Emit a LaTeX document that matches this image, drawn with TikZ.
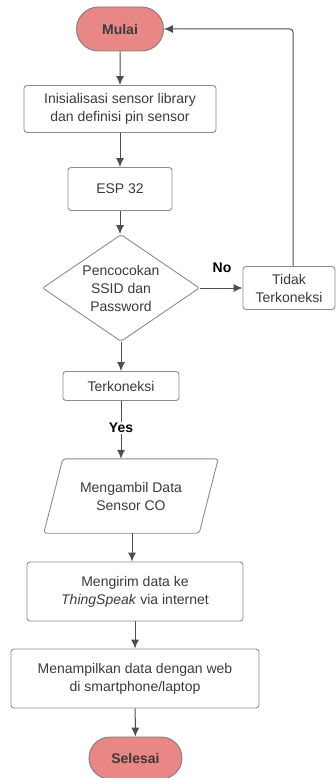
\documentclass[tikz,border=0pt]{standalone}
\usepackage{fontspec}
\setmainfont{Liberation Sans}
\usetikzlibrary{shapes.geometric,shapes.misc,arrows.meta,calc}
\definecolor{txt}{HTML}{3A3A3A}
\definecolor{bord}{HTML}{8C8C8C}
\definecolor{lin}{HTML}{4A4F57}
\definecolor{term}{HTML}{E98686}
\tikzset{
  base/.style={font=\fontsize{14}{18}\selectfont, text=txt, align=center, inner sep=0pt},
  box/.style={base, draw=bord, line width=0.9pt, rounded corners=3pt},
  termbox/.style={base, draw=bord!90!black, fill=term, line width=0.9pt, rounded rectangle, font=\fontsize{14}{18}\selectfont\bfseries},
  dec/.style={base, draw=bord, line width=0.9pt, diamond, shape aspect=1.47, rounded corners=2pt},
  lbl/.style={font=\fontsize{14}{18}\selectfont\bfseries, text=black, inner sep=1pt},
  arr/.style={draw=lin, line width=1pt, -{Latex[length=9pt,width=8pt]}},
  ln/.style={draw=lin, line width=1pt}
}
\begin{document}
\begin{tikzpicture}[x=1pt,y=-1pt]
\useasboundingbox (0,0) rectangle (335,778);
\node[termbox, minimum width=87pt, minimum height=44pt] (mulai) at (120,29) {Mulai};
\node[box, minimum width=192pt, minimum height=47pt] (init) at (120,109) {Inisialisasi sensor library\\dan definisi pin sensor};
\node[box, minimum width=104pt, minimum height=43pt] (esp) at (120,189) {ESP 32};
\node[dec, minimum width=157pt, minimum height=107pt] (cek) at (121,288) {Pencocokan\\SSID dan\\Password};
\node[box, minimum width=92pt, minimum height=43pt] (tidak) at (289,288) {Tidak\\Terkoneksi};
\node[box, minimum width=116pt, minimum height=29pt] (terk) at (121,386) {Terkoneksi};
\node[lbl] (yes) at (121,428) {Yes};
\node[base, minimum width=174pt, minimum height=74pt] (data) at (131,496) {Mengambil Data\\Sensor CO};
\draw[draw=bord, line width=0.9pt, rounded corners=3pt] ([xshift=19pt]data.north west) -- (data.north east) -- ([xshift=-19pt]data.south east) -- (data.south west) -- cycle;
\node[box, minimum width=216pt, minimum height=59pt] (kirim) at (135,591.5) {Mengirim data ke\\\textit{ThingSpeak} via internet};
\node[box, minimum width=248pt, minimum height=59pt] (tampil) at (135,678.5) {Menampilkan data dengan web\\di smartphone/laptop};
\node[termbox, minimum width=93pt, minimum height=42pt] (selesai) at (135.5,758) {Selesai};
\coordinate (loopx) at (293,29);
\node[lbl] (no) at (222,268) {No};
\draw[arr] (mulai) -- (init);
\draw[arr] (init) -- (esp);
\draw[arr] (esp.south) -- (esp.south |- cek.north);
\draw[arr] (cek) -- (tidak);
\draw[arr, rounded corners=3pt] (tidak.north -| loopx) |- (mulai.east);
\draw[arr] (cek) -- (terk);
\draw[ln] (terk) -- (yes);
\draw[arr] (yes) -- (yes |- data.north);
\draw[arr] (data.south -| 132,0) -- (kirim.north -| 132,0);
\draw[arr] (kirim) -- (tampil);
\draw[arr] (tampil) -- (selesai);
\end{tikzpicture}
\end{document}
